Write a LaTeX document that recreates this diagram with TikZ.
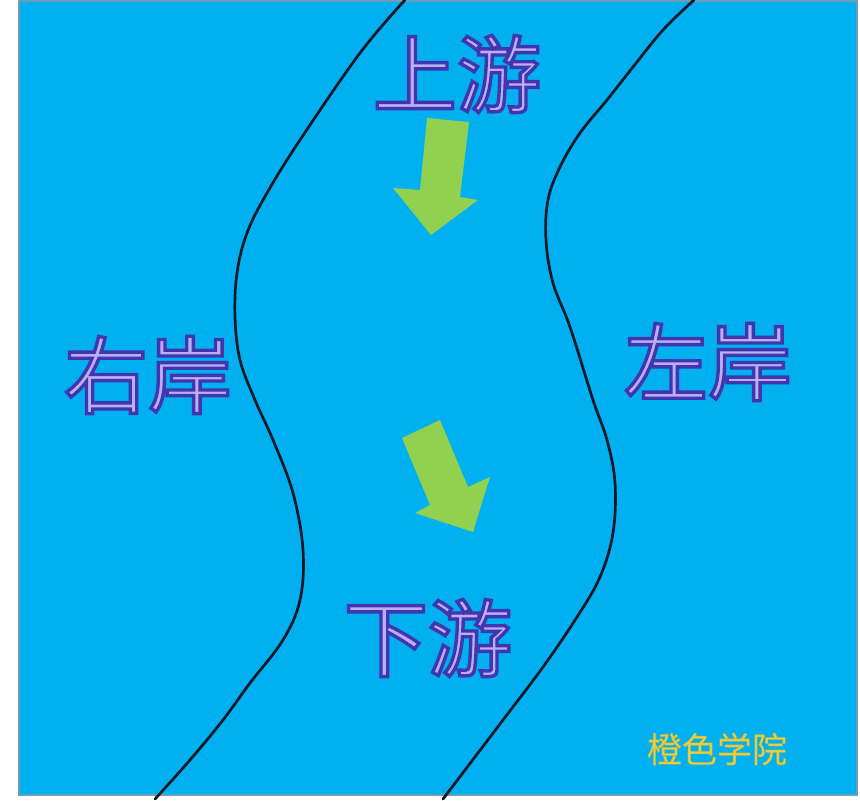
\documentclass[tikz,border=0pt]{standalone}
\usepackage{fontspec}
\newfontfamily\cjkedge[FakeBold=4]{Noto Sans CJK SC}
\newfontfamily\cjkmark[FakeBold=1]{Noto Sans CJK SC}
\definecolor{river}{HTML}{00B0F0}
\definecolor{rim}{HTML}{6A9FBA}
\definecolor{bankline}{HTML}{101826}
\definecolor{flowgreen}{HTML}{92D050}
\definecolor{mark}{HTML}{E4CF3E}
% fill colour / stroke colour of outlined glyphs (xdvipdfmx)
\newcommand{\bigword}[1]{\special{pdf:bcolor [0.74 0.68 0.97] [0.25 0.21 0.68]}#1\special{pdf:ecolor}}
\newcommand{\smallword}[1]{\special{pdf:bcolor [0.90 0.82 0.25] [0.74 0.70 0.30]}#1\special{pdf:ecolor}}
\begin{document}
\begin{tikzpicture}[x=1pt,y=-1pt,
  bank/.style={line width=2.7pt, draw=bankline, line join=round, line cap=round},
  flow/.style={fill=flowgreen, draw=none},
  bigtext/.style={inner sep=0pt, font=\cjkedge\fontsize{84}{84}\selectfont},
  marktext/.style={inner sep=0pt, font=\cjkmark\fontsize{35}{35}\selectfont}]
\useasboundingbox (0,0) rectangle (860,801);
\fill[white] (0,0) rectangle (860,801);
\filldraw[fill=river, draw=rim, line width=1.4pt] (19,1) rectangle (857,795);
% banks
\draw[bank] plot[smooth, tension=0.6] coordinates {(405,0) (360,53) (300,140) (267,193) (247,233) (237,273) (235,317) (240,360) (255,400) (273,440) (293,493) (303,550) (300,600) (283,640) (250,683) (223,720) (190,760) (155,799)};
\draw[bank] plot[smooth, tension=0.6] coordinates {(694,0) (663,30) (633,67) (607,100) (580,133) (560,167) (548,200) (546,240) (553,283) (570,327) (593,400) (607,440) (615,483) (613,533) (600,577) (577,617) (543,667) (503,720) (443,799)};
% flow arrows
\fill[flow] (427,118) -- (469,122) -- (460,197) -- (478,200) -- (431,235) -- (393,188) -- (420,190) -- cycle;
\fill[flow] (402,438) -- (440,420) -- (468,487) -- (490,477) -- (473,532) -- (415,513) -- (430,505) -- cycle;
% labels
\node[bigtext] (up) at (457,74) {\bigword{上游}};
\node[bigtext] (down) at (428,638) {\bigword{下游}};
\node[bigtext] (rightbank) at (148,375) {\bigword{右岸}};
\node[bigtext] (leftbank) at (708,362) {\bigword{左岸}};
\node[marktext] (brand) at (717,749) {\smallword{橙色学院}};
\end{tikzpicture}
\end{document}
